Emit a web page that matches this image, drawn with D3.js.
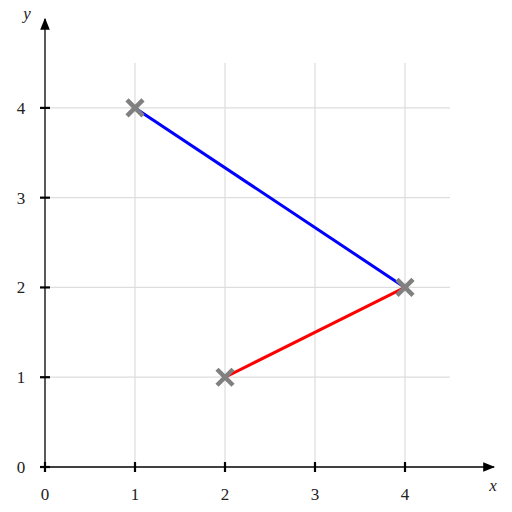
<!DOCTYPE html>
<html>
  <head>
    <script src="https://cdn.jsdelivr.net/npm/d3@7"></script>
    <style>
      body { margin: 0; background: #fff; }
      text { font-family: "Liberation Serif", "DejaVu Serif", serif; font-size: 17px; fill: #222; }
    </style>
  </head>
  <body>
    <svg id="svg" width="512" height="512" xmlns="http://www.w3.org/2000/svg"></svg>
    <script>
      // Data
      let xTicks = [0, 1, 2, 3, 4];
      let yTicks = [0, 1, 2, 3, 4];
      let gridX = [1, 2, 3, 4];
      let gridY = [1, 2, 3, 4];
      let bluePoints = [{x: 1, y: 4}, {x: 4, y: 2}];
      let redPoints = [{x: 2, y: 1}, {x: 4, y: 2}];
      let crossPoints = [{x: 1, y: 4}, {x: 4, y: 2}, {x: 2, y: 1}];

      let svg = d3.select("svg");
      let x = d3.scaleLinear().domain([0, 4.5]).range([45, 450]);
      let y = d3.scaleLinear().domain([0, 4.5]).range([467, 63]);

      // Grid
      svg.selectAll(".gx").data(gridX).enter().append("line")
        .attr("x1", d => x(d)).attr("x2", d => x(d))
        .attr("y1", y(0)).attr("y2", y(4.5))
        .attr("stroke", "#dddddd").attr("stroke-width", 1.2);
      svg.selectAll(".gy").data(gridY).enter().append("line")
        .attr("y1", d => y(d)).attr("y2", d => y(d))
        .attr("x1", x(0)).attr("x2", x(4.5))
        .attr("stroke", "#dddddd").attr("stroke-width", 1.2);

      // Arrowhead
      svg.append("defs").append("marker")
        .attr("id", "arrow").attr("viewBox", "0 0 10 10")
        .attr("refX", 9).attr("refY", 5)
        .attr("markerWidth", 12).attr("markerHeight", 12)
        .attr("markerUnits", "userSpaceOnUse")
        .attr("orient", "auto")
        .append("path").attr("d", "M0,1 L10,5 L0,9 z").attr("fill", "black");

      // Axes
      svg.append("line")
        .attr("x1", x(0) - 4).attr("x2", 494)
        .attr("y1", y(0)).attr("y2", y(0))
        .attr("stroke", "black").attr("stroke-width", 1.3)
        .attr("marker-end", "url(#arrow)");
      svg.append("line")
        .attr("x1", x(0)).attr("x2", x(0))
        .attr("y1", y(0) + 4).attr("y2", 19)
        .attr("stroke", "black").attr("stroke-width", 1.3)
        .attr("marker-end", "url(#arrow)");

      // Ticks
      svg.selectAll(".tx").data(xTicks).enter().append("line")
        .attr("x1", d => x(d)).attr("x2", d => x(d))
        .attr("y1", y(0) - 5).attr("y2", y(0) + 5)
        .attr("stroke", "black").attr("stroke-width", 2.2);
      svg.selectAll(".ty").data(yTicks).enter().append("line")
        .attr("y1", d => y(d)).attr("y2", d => y(d))
        .attr("x1", x(0) - 5).attr("x2", x(0) + 5)
        .attr("stroke", "black").attr("stroke-width", 2.2);

      svg.selectAll(".lx").data(xTicks).enter().append("text")
        .attr("x", d => x(d)).attr("y", y(0) + 33)
        .attr("text-anchor", "middle").text(d => d);
      svg.selectAll(".ly").data(yTicks).enter().append("text")
        .attr("x", 21).attr("y", d => y(d) + 6)
        .attr("text-anchor", "middle").text(d => d);

      // Axis labels
      svg.append("text").attr("x", 493).attr("y", 491)
        .attr("text-anchor", "middle").style("font-style", "italic").text("x");
      svg.append("text").attr("x", 27).attr("y", 19)
        .attr("text-anchor", "middle").style("font-style", "italic").text("y");

      // Lines
      let line = d3.line().x(d => x(d.x)).y(d => y(d.y));
      svg.append("path").attr("d", line(bluePoints))
        .attr("stroke", "blue").attr("stroke-width", 3).attr("fill", "none");
      svg.append("path").attr("d", line(redPoints))
        .attr("stroke", "red").attr("stroke-width", 3).attr("fill", "none");

      // Cross markers
      let s = 8;
      crossPoints.forEach(p => {
        svg.append("path")
          .attr("d", `M${x(p.x) - s},${y(p.y) - s}L${x(p.x) + s},${y(p.y) + s}M${x(p.x) - s},${y(p.y) + s}L${x(p.x) + s},${y(p.y) - s}`)
          .attr("stroke", "gray").attr("stroke-width", 4.5).attr("fill", "none");
      });
    </script>
  </body>
</html>
